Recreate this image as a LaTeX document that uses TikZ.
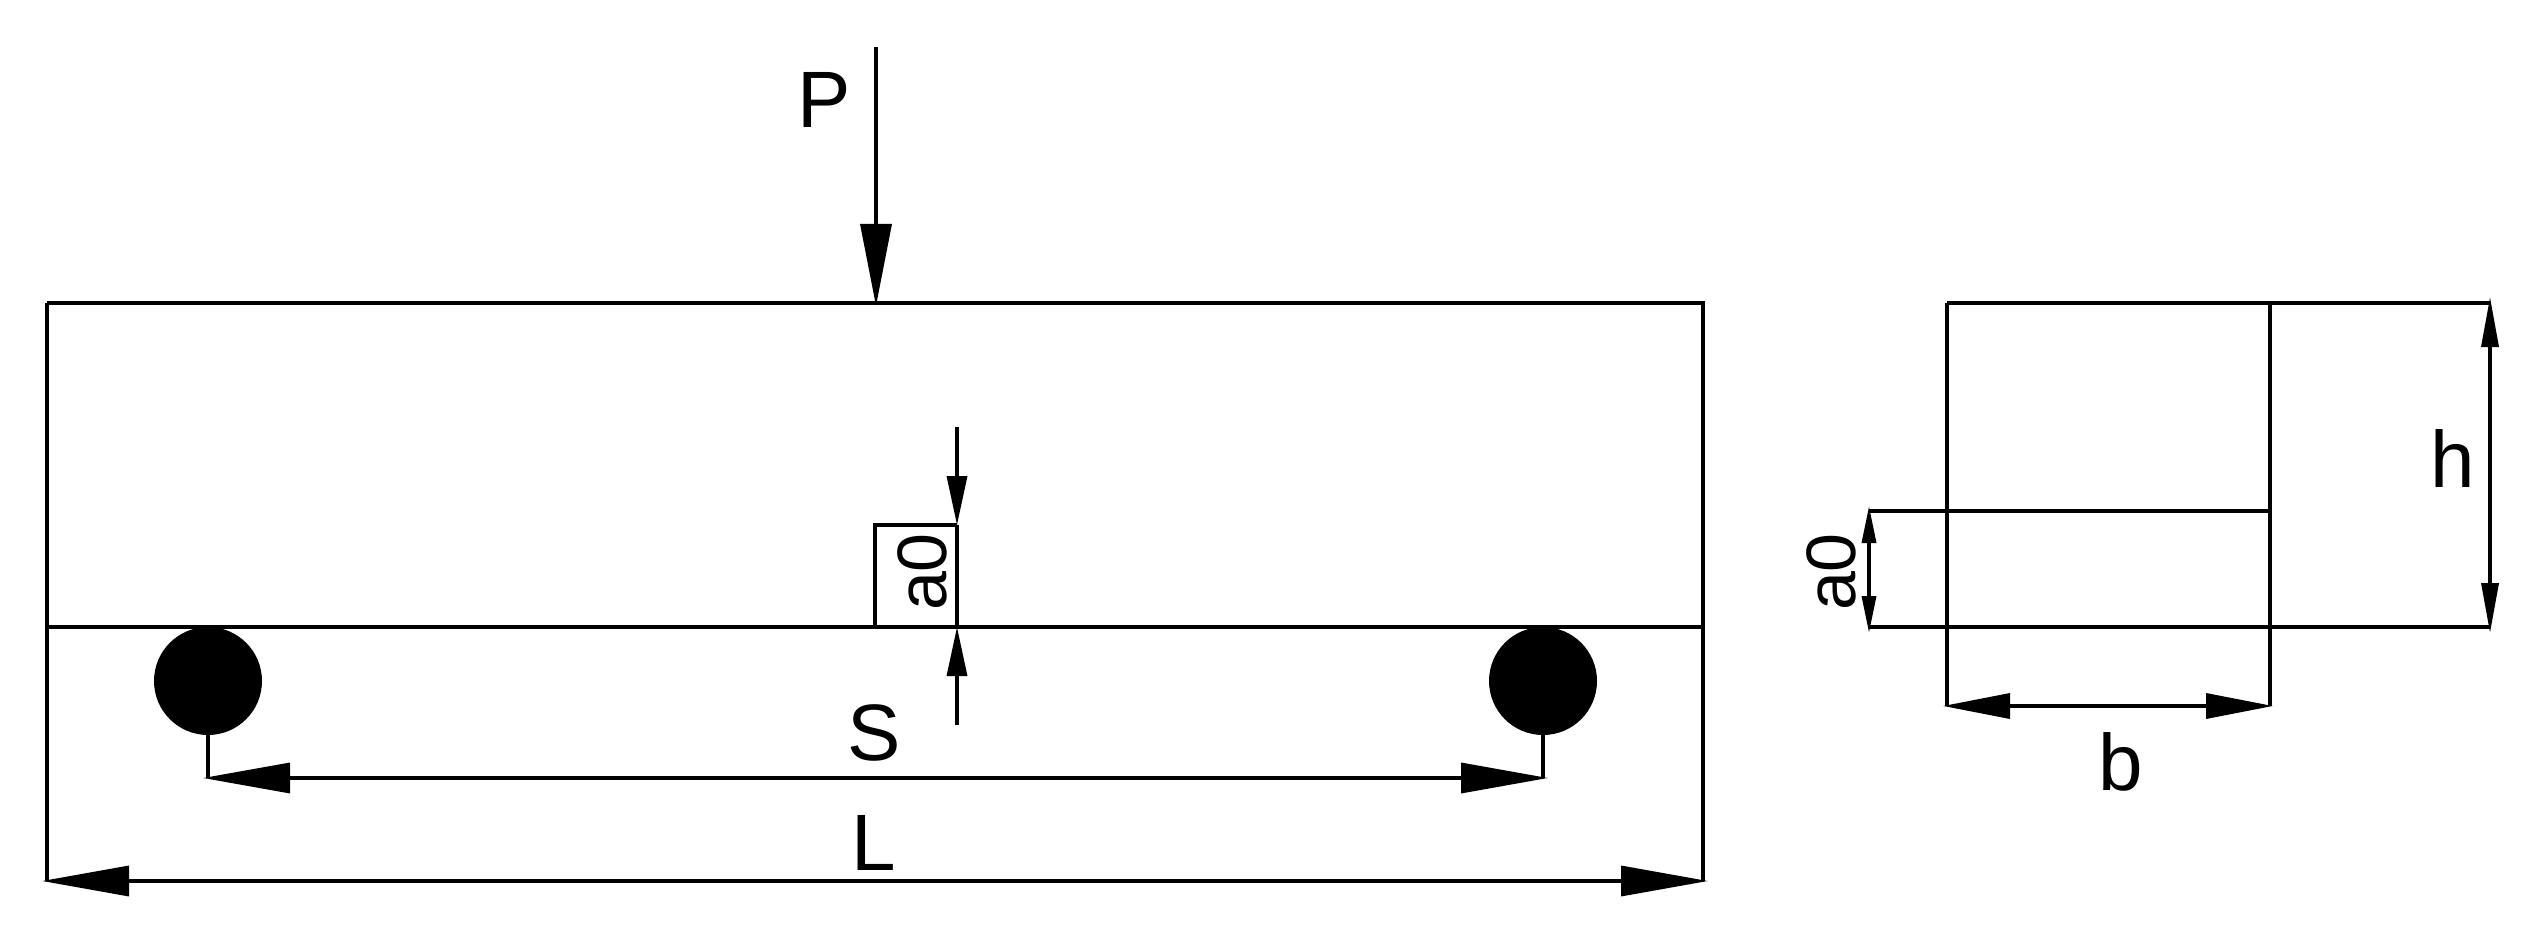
\documentclass[tikz,border=0pt]{standalone}
\usepackage{fontspec}
\setmainfont{Liberation Sans}
\newfontfamily\lblfont{Liberation Sans}
\usetikzlibrary{arrows.meta}
\tikzset{
  ln/.style={line width=3.4pt,black},
  big/.style={ln,{Triangle[length=87pt,width=30pt]}-{Triangle[length=87pt,width=30pt]}},
  force/.style={ln,-{Triangle[length=82pt,width=31pt]}},
  small/.style={ln,-{Triangle[length=49pt,width=20pt]}},
  bdim/.style={ln,{Triangle[length=67pt,width=25pt]}-{Triangle[length=67pt,width=25pt]}},
  hdim/.style={ln,{Triangle[length=50pt,width=17pt]}-{Triangle[length=50pt,width=17pt]}},
  adim/.style={ln,{Triangle[length=37pt,width=14pt]}-{Triangle[length=37pt,width=14pt]}},
  lab/.style={inner sep=0pt,font=\lblfont\fontsize{80}{90}\selectfont},
  slab/.style={inner sep=0pt,font=\lblfont\fontsize{70}{80}\selectfont,rotate=90},
  roller/.style={circle,fill=black,draw=none,inner sep=0pt,minimum size=108pt}
}
\begin{document}
\begin{tikzpicture}[x=1pt,y=-1pt]
\useasboundingbox (0,0) rectangle (2543,925);
% named points
\coordinate (Ptop) at (876,47);
\coordinate (Pbot) at (876,306);
\coordinate (TL) at (47,303);
\coordinate (TR) at (1703,303);
\coordinate (BL) at (47,627);
\coordinate (BR) at (1703,627);
\coordinate (VLb) at (47,881);
\coordinate (VRb) at (1703,881);
\coordinate (LL) at (42,881);
\coordinate (LR) at (1708,881);
\coordinate (SL) at (208,778);
\coordinate (SR) at (1543,778);
\coordinate (STL) at (203,778);
\coordinate (STR) at (1548,778);
\coordinate (NL) at (875,627);
\coordinate (NTL) at (875,525);
\coordinate (NTR) at (957,525);
\coordinate (NBR) at (957,627);
\coordinate (Aup) at (957,427);
\coordinate (Adn) at (957,725);
\coordinate (XTL) at (1947,303);
\coordinate (XTM) at (2270,303);
\coordinate (XTR) at (2490,303);
\coordinate (XBL) at (1869,627);
\coordinate (XBR) at (2490,627);
\coordinate (XML) at (1869,511);
\coordinate (XMR) at (2270,511);
\coordinate (XDL) at (1947,706);
\coordinate (XDR) at (2270,706);
\coordinate (BTL) at (1943,706);
\coordinate (BTR) at (2273,706);
\coordinate (HT) at (2490,297);
\coordinate (HB) at (2490,633);
\coordinate (AT) at (1869,506);
\coordinate (AB) at (1869,633);
% beam
\draw[ln] (TL) -- (TR) -- (VRb);
\draw[ln] (TL) -- (VLb);
\draw[ln] (BL) -- (BR);
\draw[ln] (NL) -- (NTL) -- (NTR);
\draw[ln] (NTR) -- (NBR);
% rollers
\node[roller] (R1) at (208,681) {};
\node[roller] (R2) at (1543,681) {};
\draw[ln] (R1.south) -- (SL);
\draw[ln] (R2.south) -- (SR);
% dimension arrows
\draw[force] (Ptop) -- (Pbot);
\draw[small] (Aup) -- (NTR);
\draw[small] (Adn) -- (NBR);
\draw[big] (STL) -- (STR);
\draw[big] (LL) -- (LR);
% section
\draw[ln] (XTL) -- (XTR);
\draw[ln] (XBL) -- (XBR);
\draw[ln] (XML) -- (XMR);
\draw[ln] (XTL) -- (XDL);
\draw[ln] (XTM) -- (XDR);
\draw[bdim] (BTL) -- (BTR);
\draw[hdim] (HT) -- (HB);
\draw[adim] (AT) -- (AB);
% labels
\node[lab] (lP) at (824,100) {P};
\node[lab] (lS) at (874,733) {S};
\node[lab] (lL) at (874,843) {L};
\node[lab] (lh) at (2453,459) {h};
\node[lab] (lb) at (2121,762) {b};
\node[slab] (la1) at (922,572) {a0};
\node[slab] (la2) at (1831,572) {a0};
\end{tikzpicture}
\end{document}
